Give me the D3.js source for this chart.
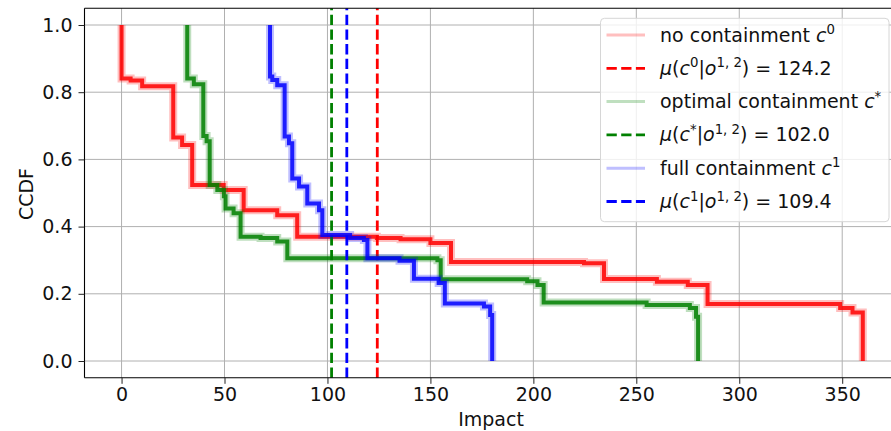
<!DOCTYPE html>
<html>
<head>
<meta charset="utf-8">
<script src="https://cdn.jsdelivr.net/npm/d3@7"></script>
<style>
  html, body { margin: 0; padding: 0; background: #fff; }
  svg { display: block; font-family: "DejaVu Sans", sans-serif; }
</style>
</head>
<body>
<svg id="chart" width="891" height="431"></svg>
<script>
// ---- data ----
const xTicks = [0, 50, 100, 150, 200, 250, 300, 350];
const yTicks = [0.0, 0.2, 0.4, 0.6, 0.8, 1.0];

const noContImpact = [0, 0, 4.4, 10, 25.1, 29.4, 34.3, 49.6, 59.3, 75.6, 85.3, 124, 135.5, 150, 160, 224.6, 234.3, 260, 275, 284.6, 349, 355, 360];
const noContCcdf   = [1.0, 0.841, 0.835, 0.818, 0.665, 0.643, 0.524, 0.509, 0.449, 0.434, 0.370, 0.366, 0.362, 0.351, 0.295, 0.291, 0.244, 0.236, 0.226, 0.170, 0.158, 0.144, 0];

const optContImpact = [31.9, 31.9, 35.1, 39.7, 41.3, 42.8, 46.5, 49.7, 50.5, 54.4, 57.8, 67.5, 75.6, 80.5, 153.4, 155, 197, 202, 205, 255, 276, 279, 280];
const optContCcdf   = [1.0, 0.841, 0.824, 0.670, 0.654, 0.524, 0.509, 0.490, 0.454, 0.440, 0.370, 0.366, 0.356, 0.306, 0.300, 0.243, 0.237, 0.226, 0.174, 0.167, 0.158, 0.132, 0];

const fullContImpact = [72.1, 72.1, 73.2, 75.6, 79.2, 81.3, 82.9, 86.2, 90.2, 95.9, 97.5, 111, 117.7, 119.4, 135, 142, 154, 157, 176, 179, 180];
const fullContCcdf   = [1.0, 0.847, 0.836, 0.821, 0.668, 0.648, 0.543, 0.519, 0.469, 0.449, 0.375, 0.366, 0.360, 0.306, 0.298, 0.245, 0.232, 0.171, 0.162, 0.137, 0];

const seriesNames = ["no containment", "optimal containment", "full containment"];
const seriesSup = ["0", "*", "1"];
const meanValues = [124.2, 102.0, 109.4];
const colors = ["#ff0000", "#008000", "#0000ff"];

// ---- layout ----
const FS = 19;
const TXT = "#111";
const svg = d3.select("#chart");
const x = d3.scaleLinear().domain([-18, 378]).range([84.5, 84.5 + 396 * 2.059]);
const y = d3.scaleLinear().domain([-0.05, 1.05]).range([377.8, 8.2]);
const pLeft = x(-18), pRight = x(378), pTop = y(1.05), pBottom = y(-0.05);

// grid
const grid = svg.append("g").attr("stroke", "#b0b0b0").attr("stroke-width", 1);
xTicks.forEach(t => grid.append("line").attr("x1", x(t)).attr("x2", x(t)).attr("y1", pTop).attr("y2", pBottom));
yTicks.forEach(t => grid.append("line").attr("x1", pLeft).attr("x2", pRight).attr("y1", y(t)).attr("y2", y(t)));

// curves and mean lines
const series = [
  {impact: noContImpact, ccdf: noContCcdf},
  {impact: optContImpact, ccdf: optContCcdf},
  {impact: fullContImpact, ccdf: fullContCcdf}
];
const line = d3.line().x(d => x(d[0])).y(d => y(d[1])).curve(d3.curveStepAfter);
const plot = svg.append("g");
series.forEach((s, i) => {
  const pts = s.impact.map((v, k) => [v, s.ccdf[k]]);
  plot.append("path").attr("d", line(pts)).attr("fill", "none")
    .attr("stroke", colors[i]).attr("stroke-opacity", 0.25).attr("stroke-width", 8);
  plot.append("path").attr("d", line(pts)).attr("fill", "none")
    .attr("stroke", colors[i]).attr("stroke-opacity", 0.85).attr("stroke-width", 4);
  plot.append("line")
    .attr("x1", x(meanValues[i])).attr("x2", x(meanValues[i]))
    .attr("y1", pBottom).attr("y2", pTop)
    .attr("stroke", colors[i]).attr("stroke-width", 2.8)
    .attr("stroke-dasharray", "10.3,4.4");
});

// spines
svg.append("line").attr("x1", pLeft).attr("x2", pLeft).attr("y1", pTop).attr("y2", pBottom).attr("stroke", "#000").attr("stroke-width", 1.1);
svg.append("line").attr("x1", pLeft).attr("x2", pRight).attr("y1", pBottom).attr("y2", pBottom).attr("stroke", "#000").attr("stroke-width", 1.1);
svg.append("line").attr("x1", pLeft).attr("x2", pRight).attr("y1", pTop).attr("y2", pTop).attr("stroke", "#000").attr("stroke-width", 1.1);

// axes
const xAxis = d3.axisBottom(x).tickValues(xTicks).tickSize(6).tickPadding(4).tickFormat(d3.format("d"));
const gx = svg.append("g").attr("transform", `translate(0,${pBottom})`).call(xAxis);
gx.select(".domain").remove();
gx.selectAll("text").attr("font-size", FS).attr("fill", TXT).attr("font-family", "DejaVu Sans");
gx.selectAll("line").attr("stroke", "#222");

const yAxis = d3.axisLeft(y).tickValues(yTicks).tickSize(6).tickPadding(6).tickFormat(d3.format(".1f"));
const gy = svg.append("g").attr("transform", `translate(${pLeft},0)`).call(yAxis);
gy.select(".domain").remove();
gy.selectAll("text").attr("font-size", FS).attr("fill", TXT).attr("font-family", "DejaVu Sans");
gy.selectAll("line").attr("stroke", "#222");

svg.append("text").attr("x", 491).attr("y", 426).attr("text-anchor", "middle")
  .attr("font-size", FS).attr("fill", TXT).text("Impact");
svg.append("text").attr("transform", "translate(33,194) rotate(-90)").attr("text-anchor", "middle")
  .attr("font-size", FS).attr("fill", TXT).text("CCDF");

// legend
const lg = svg.append("g");
lg.append("rect").attr("x", 600.5).attr("y", 18.3).attr("width", 288.5).attr("height", 203.4)
  .attr("rx", 4).attr("fill", "#fff").attr("fill-opacity", 0.8).attr("stroke", "#d6d6d6").attr("stroke-width", 1);

function richText(g, xPos, yPos, parts) {
  const t = g.append("text").attr("x", xPos).attr("y", yPos).attr("font-size", FS).attr("fill", TXT);
  parts.forEach(p => {
    const sp = t.append("tspan").text(p.t);
    if (p.it) sp.attr("font-style", "italic");
    if (p.sup) sp.attr("font-size", FS * 0.7).attr("dy", -7.5);
    if (p.down) sp.attr("dy", 7.5);
  });
  return t;
}

const rowY0 = 35, rowStep = 33.3;
seriesNames.forEach((name, i) => {
  const cy1 = rowY0 + rowStep * (2 * i);
  const cy2 = rowY0 + rowStep * (2 * i + 1);
  lg.append("line").attr("x1", 606.5).attr("x2", 645).attr("y1", cy1).attr("y2", cy1)
    .attr("stroke", colors[i]).attr("stroke-opacity", 0.25).attr("stroke-width", 3);
  lg.append("line").attr("x1", 606.5).attr("x2", 645).attr("y1", cy2).attr("y2", cy2)
    .attr("stroke", colors[i]).attr("stroke-width", 2.8).attr("stroke-dasharray", "10.3,4.4");
  richText(lg, 660, cy1 + 6.5, [
    {t: name + " "}, {t: "c", it: true}, {t: seriesSup[i], sup: true}
  ]);
  richText(lg, 660, cy2 + 6.5, [
    {t: "μ", it: true}, {t: "("}, {t: "c", it: true}, {t: seriesSup[i], sup: true},
    {t: "|", down: true}, {t: "o", it: true}, {t: "1, 2", sup: true},
    {t: ") = " + meanValues[i].toFixed(1), down: true}
  ]);
});
</script>
</body>
</html>
